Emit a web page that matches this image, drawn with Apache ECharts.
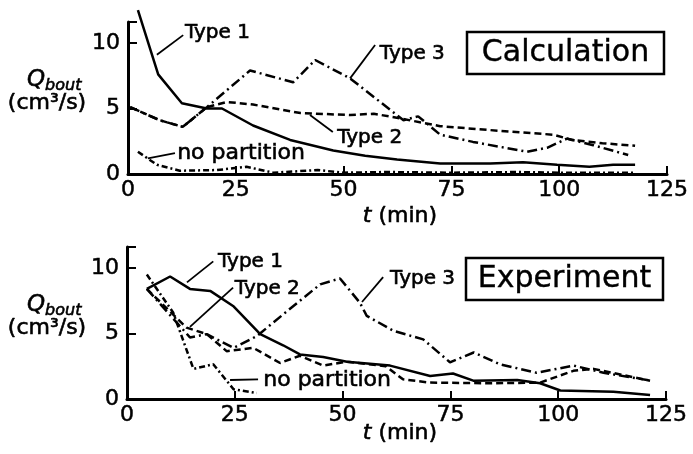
<!DOCTYPE html>
<html>
<head>
<meta charset="utf-8">
<script src="https://cdn.jsdelivr.net/npm/echarts@6/dist/echarts.min.js"></script>
<style>
  html, body { margin: 0; padding: 0; background: #fff; }
  #main { width: 693px; height: 454px; }
</style>
</head>
<body>
<div id="main"></div>
<script>
// t (min), Q_bout (cm3/s)
var calcType1 = [[2.3, 12.5], [7, 7.6], [12.5, 5.4], [18.3, 5.0], [21.8, 5.0], [29, 3.7], [37.6, 2.6], [47.6, 1.8], [55, 1.4], [62.4, 1.1], [72.4, 0.8], [84, 0.8], [91.6, 0.9], [99.5, 0.7], [107, 0.55], [112.5, 0.7], [117.6, 0.7]];
var calcType2 = [[0.5, 5.1], [7.4, 4.1], [12.7, 3.6], [18.3, 5.1], [22.9, 5.5], [29, 5.3], [40, 4.65], [51.5, 4.5], [57, 4.6], [63, 4.25], [72.4, 3.65], [84, 3.35], [98.6, 3.0], [103, 2.6], [110, 2.35], [117.6, 2.15]];
var calcType3 = [[0.5, 5.1], [7.4, 4.1], [12.7, 3.6], [18.3, 5.1], [28.3, 7.9], [38.3, 7.0], [43.4, 8.7], [51.5, 7.3], [63.9, 4.1], [67.3, 4.4], [72.4, 3.0], [80, 2.45], [92.5, 1.7], [97.2, 2.0], [101.8, 2.7], [107.9, 2.2], [116, 1.45]];
var calcNone = [[2.3, 1.7], [6.7, 0.7], [12, 0.25], [20.6, 0.3], [27.5, 0.55], [33.7, 0.1], [44, 0.3], [50, 0.1], [60, 0.15], [75, 0.1], [90, 0.15], [100, 0.1], [117.6, 0.1]];

var expType1 = [[4.6, 8.4], [10, 9.35], [14.6, 8.4], [19.3, 8.25], [24.6, 7.1], [30.9, 4.95], [36.2, 4.1], [40.1, 3.4], [45.5, 3.2], [51, 2.85], [61, 2.55], [70.3, 1.75], [75.6, 1.95], [80.3, 1.4], [90.5, 1.45], [95.8, 1.2], [100.5, 0.65], [112.8, 0.55], [121.3, 0.3]];
var expType2 = [[4.6, 8.4], [13.8, 5.45], [18.5, 4.95], [23.1, 3.65], [29.3, 3.9], [35.5, 2.75], [40.1, 3.3], [45.5, 2.55], [51, 2.85], [60, 2.5], [64, 1.5], [70.3, 1.25], [84.2, 1.2], [95.8, 1.25], [103.5, 2.15], [108.2, 2.3], [121.3, 1.4]];
var expType3 = [[4.6, 8.4], [14.6, 4.7], [18.5, 4.95], [24.7, 3.9], [30.1, 4.8], [38.6, 7.1], [44.8, 8.75], [49.4, 9.2], [54, 7.35], [55.6, 6.35], [61.8, 5.2], [68.7, 4.55], [74.9, 2.8], [80.4, 3.55], [86.5, 2.65], [95, 2.0], [103.6, 2.55], [110.5, 2.0], [120.6, 1.45]];
var expNone = [[4.6, 9.5], [10.7, 6.6], [15.4, 2.3], [20, 2.65], [24.7, 0.75], [30.1, 0.45]];

var yTicks = [0, 5, 10];
var panelTitles = ['Calculation', 'Experiment'];

// curve labels: [grid, text, text anchor t, v, leader from t, v, leader to t, v]
var curveLabels = [
    [0, 'Type 1', 13.2, 10.8, 6.7, 9.1, 12.8, 10.6],
    [0, 'Type 3', 58.4, 9.2, 51.5, 7.3, 57.3, 9.85],
    [0, 'Type 2', 48.5, 2.8, 42.2, 4.5, 47.5, 3.2],
    [0, 'no partition', 11.4, 1.6, 4.6, 1.2, 10.9, 1.6],
    [1, 'Type 1', 21.1, 10.5, 13.9, 8.9, 20, 10.5],
    [1, 'Type 2', 25, 8.4, 14.6, 5.5, 24.6, 8.5],
    [1, 'Type 3', 61, 9.15, 54.5, 7.4, 59.4, 9.3],
    [1, 'no partition', 31.6, 1.45, 23.9, 1.45, 30.4, 1.5]
];

var FONT = 'DejaVu Sans';

var myChart = echarts.init(document.getElementById('main'), null, { renderer: 'canvas' });

function xAxis(idx) {
    return {
        type: 'value', gridIndex: idx, min: 0, max: 125, interval: 25,
        axisLine: { lineStyle: { color: '#000', width: 3 } },
        axisTick: { inside: true, length: 8, lineStyle: { color: '#000', width: 2 } },
        axisLabel: { color: '#000', fontSize: 22, fontFamily: FONT, margin: 5,
            textBorderColor: '#000', textBorderWidth: 0.5 },
        splitLine: { show: false }
    };
}
function yAxis(idx) {
    return {
        type: 'value', gridIndex: idx, min: 0, max: 11.6, interval: 5,
        axisLine: { show: true, lineStyle: { color: '#000', width: 3 } },
        axisTick: { show: true, inside: true, length: 9, lineStyle: { color: '#000', width: 2 } },
        axisLabel: { color: '#000', fontSize: 22, fontFamily: FONT, margin: 8,
            textBorderColor: '#000', textBorderWidth: 0.5,
            formatter: function (v) { return yTicks.indexOf(v) >= 0 ? v : ''; } },
        splitLine: { show: false }
    };
}
function line(idx, name, data, dash) {
    return {
        type: 'line', name: name, xAxisIndex: idx, yAxisIndex: idx, data: data,
        symbol: 'none', clip: false, animation: false,
        lineStyle: { color: '#000', width: 2.5, type: dash }
    };
}

myChart.setOption({
    backgroundColor: '#fff',
    animation: false,
    grid: [
        { left: 128, right: 26, top: 22, height: 152 },
        { left: 127, right: 27, top: 247, height: 152 }
    ],
    xAxis: [xAxis(0), xAxis(1)],
    yAxis: [yAxis(0), yAxis(1)],
    series: [
        line(0, 'Type 1', calcType1, 'solid'),
        line(0, 'Type 2', calcType2, [7, 4]),
        line(0, 'Type 3', calcType3, [10, 4, 2, 4]),
        line(0, 'no partition', calcNone, [6, 3, 2, 3]),
        line(1, 'Type 1', expType1, 'solid'),
        line(1, 'Type 2', expType2, [7, 4]),
        line(1, 'Type 3', expType3, [10, 4, 2, 4]),
        line(1, 'no partition', expNone, [6, 3, 2, 3])
    ]
});

// graphic text: stroke thickens the glyphs like the scanned original
function txt(x, y, text, size, align, extra) {
    var s = { text: text, fill: '#000', stroke: '#000', lineWidth: 0.6,
        font: size + 'px "' + FONT + '"', align: align, verticalAlign: 'middle' };
    if (extra) s = echarts.util.extend(s, extra);
    return { type: 'text', x: x, y: y, style: s };
}

// annotations placed from data coordinates
var g = [];
curveLabels.forEach(function (c) {
    var p = myChart.convertToPixel({ gridIndex: c[0] }, [c[2], c[3]]);
    var a = myChart.convertToPixel({ gridIndex: c[0] }, [c[4], c[5]]);
    var b = myChart.convertToPixel({ gridIndex: c[0] }, [c[6], c[7]]);
    var big = c[1] === 'no partition';
    g.push(txt(p[0], p[1], c[1], big ? 22 : 20, 'left'));
    g.push({
        type: 'line', shape: { x1: a[0], y1: a[1], x2: b[0], y2: b[1] },
        style: { stroke: '#000', lineWidth: 1.8 }
    });
});

[0, 1].forEach(function (i) {
    var o = myChart.convertToPixel({ gridIndex: i }, [0, 0]);
    var r = myChart.convertToPixel({ gridIndex: i }, [125, 0]);
    var five = myChart.convertToPixel({ gridIndex: i }, [0, 5]);
    // panel title box
    var bx = r[0] - 200, by = i === 0 ? o[1] - 142 : o[1] - 141;
    g.push({
        type: 'rect', shape: { x: bx, y: by, width: 197, height: 42 },
        style: { fill: '#fff', stroke: '#000', lineWidth: 2.5 }
    });
    g.push(txt(bx + 98.5, by + 21, panelTitles[i], 30, 'center', { lineWidth: 0.4 }));
    // y axis name
    g.push(txt(27, five[1] - 28, '{q|Q}{s|bout}', 23, 'left', {
        rich: {
            q: { fontSize: 23, fontStyle: 'italic', fontFamily: FONT },
            s: { fontSize: 16, fontStyle: 'italic', fontFamily: FONT, padding: [11, 0, 0, 0] }
        }
    }));
    g.push(txt(47, five[1] - 5, '(cm³/s)', 22, 'center'));
    // x axis name
    g.push(txt(400, o[1] + (i === 0 ? 42 : 34), '{t|t} {n|(min)}', 22, 'center', {
        rich: {
            t: { fontSize: 22, fontStyle: 'italic', fontFamily: FONT },
            n: { fontSize: 22, fontFamily: FONT }
        }
    }));
});

myChart.setOption({ graphic: g });
</script>
</body>
</html>
